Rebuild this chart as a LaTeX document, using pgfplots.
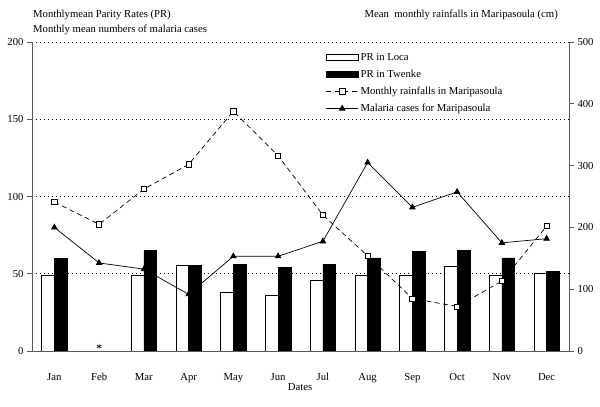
\documentclass[border=0pt]{standalone}
\usepackage{pgfplots}
\pgfplotsset{compat=1.18}
\usepackage{fontspec}
\setmainfont{Liberation Serif}
\newcommand{\chfont}{\fontsize{10.7}{12.8}\selectfont}
\pgfplotsset{
  mybarlegend/.style={legend image code/.code={\draw[##1] (0pt,-3pt) rectangle (32pt,3pt);}},
  mylinelegend/.style={legend image code/.code={\draw[mark repeat=2,mark phase=2,##1] plot coordinates {(0pt,0pt) (16pt,0pt) (32pt,0pt)};}},
  common/.style={
    at={(32pt,56pt)}, anchor=south west, scale only axis,
    width=537pt, height=309pt,
    xmin=-0.5, xmax=11.5, enlargelimits=false,
    /pgf/number format/assume math mode=true,
    tick label style={font=\chfont, black},
    axis line style={gray!70!black, line width=0.9pt},
    major tick length=5pt,
    tick style={gray!70!black, line width=0.8pt},
    tick align=outside,
  }
}
\begin{document}
\begin{tikzpicture}[font=\chfont]
\useasboundingbox (0pt,0pt) rectangle (600pt,407pt);
\node[anchor=base west, inner sep=0pt] at (33pt,389pt) {Monthlymean Parity Rates (PR)};
\node[anchor=base west, inner sep=0pt] at (33pt,374.5pt) {Monthly mean numbers of malaria cases};
\node[anchor=base east, inner sep=0pt] at (558pt,389pt) {Mean\ \ monthly rainfalls in Maripasoula (cm)};
\node[anchor=base, inner sep=0pt] at (300pt,16pt) {Dates};
\begin{axis}[common,
  axis x line*=bottom, axis y line*=left,
  ymin=0, ymax=200, ytick={0,50,100,150,200},
  xtick={0,...,11},
  xticklabels={Jan,Feb,Mar,Apr,May,Jun,Jul,Aug,Sep,Oct,Nov,Dec},
  xtick style={draw=none},
  xticklabel style={yshift=-14pt},
  ymajorgrids,
  grid style={black, line width=0.7pt, dash pattern=on 1.4pt off 2.6pt},
]
\addplot[ybar, bar width=12.8pt, bar shift=-6.4pt, fill=white, draw=black, line width=0.6pt]
  coordinates {(0,48.7) (2,48.7) (3,55.5) (4,37.8) (5,36) (6,46) (7,48.7) (8,48.7) (9,54.6) (10,48.7) (11,50)};
\addplot[ybar, bar width=12.8pt, bar shift=6.4pt, fill=black, draw=black, line width=0.6pt]
  coordinates {(0,60) (2,65) (3,55.2) (4,56.3) (5,54.2) (6,56) (7,60.2) (8,64.3) (9,65.2) (10,60.2) (11,51.6)};
\addplot[black, line width=0.7pt, mark=triangle*, mark size=3.2pt, mark options={solid}]
  coordinates {(0,80) (1,57) (2,53) (3,36.7) (4,61.3) (5,61.3) (6,71) (7,122) (8,93) (9,103) (10,70) (11,72.7)};
\addplot[only marks, mark=asterisk, mark size=2.6pt, black, line width=0.6pt]
  coordinates {(1,3)};
\end{axis}
\begin{axis}[common,
  axis x line=none, axis y line*=right,
  ymin=0, ymax=500, ytick={0,100,...,500},
  legend style={draw=none, fill=white, at={(0.545,0.975)}, anchor=north west,
    font=\chfont, row sep=4.2pt, inner sep=1pt,
    /tikz/every even column/.append style={column sep=2pt}},
  legend cell align=left,
]
\addlegendimage{mybarlegend, fill=white, draw=black, line width=0.5pt}
\addlegendentry{PR in Loca}
\addlegendimage{mybarlegend, fill=black, draw=black}
\addlegendentry{PR in Twenke}
\addplot[black, line width=0.7pt, dash pattern=on 5pt off 3.5pt, mark=square*, mark size=2.6pt,
  mark options={solid, fill=white, line width=0.6pt}, mylinelegend]
  coordinates {(0,241) (1,205) (2,262) (3,302) (4,388) (5,316) (6,220) (7,154) (8,85) (9,72) (10,113) (11,202)};
\addlegendentry{Monthly rainfalls in Maripasoula}
\addlegendimage{black, line width=0.7pt, mark=triangle*, mark size=3.2pt, mylinelegend}
\addlegendentry{Malaria cases for Maripasoula}
\end{axis}
\end{tikzpicture}
\end{document}
